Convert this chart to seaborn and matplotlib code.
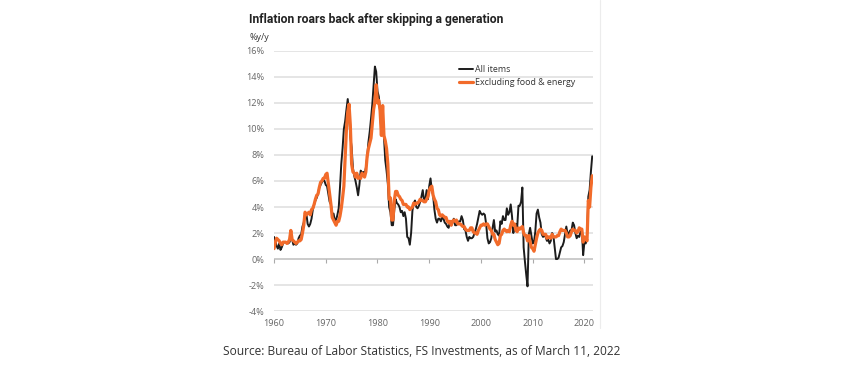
import numpy as np
import pandas as pd
import seaborn as sns
import matplotlib.pyplot as plt
from matplotlib.lines import Line2D

# quarterly readings, starting at the left edge of the chart (1960)
all_items = [
    1.7, 1.4,
    1.0, 0.8, 1.2, 0.7,   0.9, 1.2, 1.3, 1.3,   1.3, 1.2, 1.3, 1.6,   1.5, 1.1, 1.2, 1.1,
    1.2, 1.6, 1.8, 1.9,   2.5, 2.8, 3.5, 3.5,   2.7, 2.5, 2.7, 3.1,   3.8, 4.2, 4.5, 4.7,
    5.0, 5.5, 5.7, 5.9,   6.1, 6.0, 5.7, 5.6,   5.0, 4.4, 4.2, 3.4,   3.5, 3.0, 3.0, 3.4,
    3.9, 5.5, 7.3, 8.5,   10.0, 10.6, 11.5, 12.3, 11.2, 9.4, 8.6, 7.0, 6.4, 6.0, 5.5, 4.9,
    5.7, 6.8, 6.6, 6.7,   6.5, 7.0, 7.8, 9.0,   9.8, 10.8, 11.9, 13.3, 14.8, 14.4, 12.9, 12.5,
    11.4, 9.8, 10.9, 9.4, 7.6, 6.8, 5.8, 4.0,   3.6, 2.6, 2.6, 3.8,   4.6, 4.3, 4.2, 4.0,
    3.6, 3.7, 3.3, 3.6,   3.1, 1.7, 1.6, 1.1,   2.0, 3.7, 4.3, 4.5,   4.0, 3.9, 4.1, 4.4,
    4.8, 5.3, 4.5, 4.6,   5.3, 4.6, 5.6, 6.2,   5.3, 4.9, 3.8, 3.1,   2.8, 3.1, 3.1, 2.9,
    3.2, 3.1, 2.8, 2.7,   2.5, 2.4, 2.9, 2.6,   2.8, 3.1, 2.6, 2.6,   2.8, 2.9, 2.9, 3.3,
    3.0, 2.3, 2.2, 1.7,   1.4, 1.7, 1.6, 1.6,   1.7, 2.0, 2.3, 2.7,   3.2, 3.7, 3.5, 3.4,
    3.5, 3.4, 2.7, 1.6,   1.2, 1.3, 1.6, 2.4,   3.0, 2.1, 2.2, 1.9,   1.8, 2.9, 2.7, 3.3,
    3.0, 3.0, 3.9, 3.4,   3.6, 4.2, 3.3, 2.0,   2.4, 2.7, 2.4, 4.1,   4.1, 4.4, 5.5, 0.9,
    -0.2, -1.2, -2.1, 1.9, 2.4, 1.8, 1.2, 1.3,   2.1, 3.5, 3.8, 3.2,   2.8, 1.9, 1.7, 1.8,
    1.7, 1.4, 1.5, 1.2,   1.4, 2.0, 1.8, 0.9,   0.0, 0.0, 0.1, 0.5,   0.9, 1.0, 1.3, 1.9,
    2.5, 1.9, 2.0, 2.2,   2.2, 2.8, 2.6, 2.0,   1.6, 1.8, 1.7, 2.1,   2.3, 0.3, 1.3, 1.2,
    1.7, 4.8, 5.3, 6.7,   7.9,
]
core = [
    0.8, 1.3,
    1.6, 1.5, 1.4, 1.2,   1.1, 1.3, 1.3, 1.3,   1.2, 1.3, 1.5, 2.2,   1.5, 1.4, 1.3, 1.2,
    1.3, 1.4, 1.4, 1.5,   2.0, 2.6, 3.6, 3.4,   3.5, 3.6, 3.4, 3.8,   3.9, 4.2, 4.6, 4.9,
    5.0, 5.5, 5.9, 6.0,   6.2, 6.2, 6.5, 6.6,   5.8, 5.0, 4.2, 3.2,   3.0, 2.8, 2.6, 2.9,
    2.9, 3.3, 3.9, 4.7,   5.6, 7.8, 10.0, 11.3, 11.9, 10.3, 7.3, 6.7, 6.6, 6.3, 6.6, 6.2,
    6.3, 6.2, 6.6, 6.5,   6.3, 6.7, 7.9, 8.5,   8.9, 9.3, 10.4, 11.5, 12.1, 13.4, 12.0, 12.2,
    11.4, 9.5, 11.8, 9.5, 9.1, 8.5, 7.3, 4.6,   4.7, 3.0, 3.0, 4.5,   5.2, 5.2, 4.9, 4.8,
    4.6, 4.5, 4.2, 4.2,   4.2, 4.0, 4.0, 3.8,   3.9, 4.0, 4.3, 4.2,   4.3, 4.3, 4.4, 4.6,
    4.5, 4.5, 4.4, 4.4,   4.6, 4.8, 5.3, 5.5,   5.6, 4.9, 4.6, 4.4,   3.9, 3.8, 3.4, 3.3,
    3.4, 3.3, 3.2, 3.2,   2.9, 2.8, 2.9, 2.6,   2.9, 3.0, 2.9, 3.0,   2.7, 2.7, 2.7, 2.6,
    2.5, 2.5, 2.3, 2.2,   2.2, 2.2, 2.4, 2.4,   2.1, 2.0, 2.0, 1.9,   2.2, 2.4, 2.6, 2.6,
    2.7, 2.6, 2.7, 2.7,   2.5, 2.3, 2.2, 1.9,   1.9, 1.5, 1.3, 1.1,   1.2, 1.8, 1.9, 2.2,
    2.3, 2.2, 2.1, 2.2,   2.1, 2.6, 2.9, 2.6,   2.7, 2.2, 2.1, 2.4,   2.3, 2.4, 2.5, 2.0,
    1.8, 1.8, 1.4, 1.8,   1.3, 0.9, 0.8, 0.6,   1.1, 1.6, 2.0, 2.2,   2.3, 2.2, 1.9, 1.9,
    1.9, 1.6, 1.7, 1.7,   1.6, 1.9, 1.7, 1.7,   1.7, 1.8, 1.8, 2.1,   2.3, 2.2, 2.2, 2.2,
    2.0, 1.7, 1.7, 1.8,   2.1, 2.3, 2.2, 2.2,   2.0, 2.1, 2.4, 2.3,   2.3, 1.3, 1.7, 1.6,
    1.4, 4.5, 4.0, 5.5,   6.4,
]
years = 1960 + 0.25 * np.arange(len(all_items))
series_names = ["All items", "Excluding food & energy"]
y_ticks = [-4, -2, 0, 2, 4, 6, 8, 10, 12, 14, 16]
x_ticks = [1960, 1970, 1980, 1990, 2000, 2010, 2020]

df = pd.DataFrame({
    "year": np.concatenate([years, years]),
    "value": all_items + core,
    "series": [series_names[0]] * len(all_items) + [series_names[1]] * len(core),
})

sns.set_style("white")
plt.rcParams["font.family"] = ["Open Sans", "DejaVu Sans"]

fig = plt.figure(figsize=(8.59, 3.69), dpi=100)
ax = fig.add_axes([0.319, 0.157, 0.371, 0.705])

for y in y_ticks:
    ax.axhline(y, color="#bdbdbd" if y == 0 else "#dedede", lw=1.1, zorder=0)

sns.lineplot(data=df, x="year", y="value", hue="series", hue_order=series_names,
             palette=["#1c1c1c", "#f26b2a"], ax=ax, legend=False)
ax.lines[-2].set_linewidth(1.4)
ax.lines[-1].set_linewidth(2.3)

ax.set_xlim(1960, 2021.6)
ax.set_ylim(-4, 16)
ax.set_yticks(y_ticks)
ax.set_yticklabels([f"{v}%" for v in y_ticks])
ax.set_xticks(x_ticks)
ax.set_xticklabels([str(v) for v in x_ticks])
ax.tick_params(axis="both", length=0, labelsize=6.6, labelcolor="#666666")
ax.tick_params(axis="x", pad=6)
ax.tick_params(axis="y", pad=7)
ax.set_xlabel("")
ax.set_ylabel("")
for s in ax.spines.values():
    s.set_visible(False)

# small tick marks on the zero line
sec = ax.secondary_xaxis(0.2)
sec.set_xticks(x_ticks)
sec.set_xticklabels([])
sec.tick_params(length=3, color="#aaaaaa", width=0.8)
sec.spines["bottom"].set_visible(False)

handles = [Line2D([], [], color="#1c1c1c", lw=1.4), Line2D([], [], color="#f26b2a", lw=2.3)]
ax.legend(handles, series_names, loc="upper left", bbox_to_anchor=(0.555, 0.975),
          frameon=False, fontsize=6.4, handlelength=1.6, handletextpad=0.2,
          labelspacing=0.45, labelcolor="#333333")

fig.text(0.290, 0.948, "Inflation roars back after skipping a generation",
         fontsize=8.7, fontweight="bold", color="#222222", family=["Roboto", "DejaVu Sans"],
         va="center")
fig.text(0.290, 0.898, "%y/y", fontsize=6.4, color="#333333", va="center")
fig.text(0.491, 0.048, "Source: Bureau of Labor Statistics, FS Investments, as of March 11, 2022",
         fontsize=8.6, color="#333333", ha="center", va="center")
fig.add_artist(Line2D([0.699, 0.699], [0.11, 1.0], color="#ececec", lw=0.8))

fig.savefig("out.png", dpi=100)
